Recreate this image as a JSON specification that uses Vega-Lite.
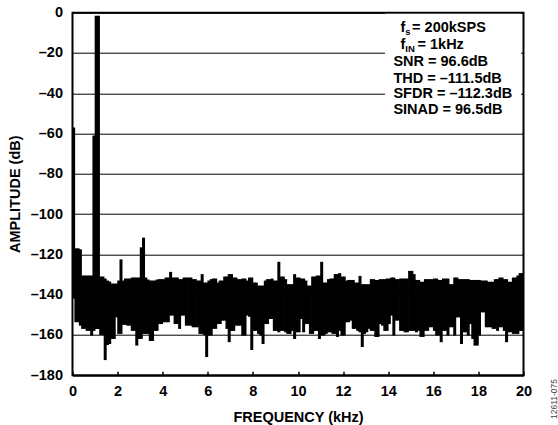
{
"$schema":"https://vega.github.io/schema/vega-lite/v6.json",
"width":451,"height":362.5,
"autosize":{"type":"none"},
"padding":{"left":72.5,"top":12.7,"right":34.5,"bottom":49.8},
"background":"white",
"config":{"view":{"stroke":"#000","strokeWidth":2},"font":"Liberation Sans"},
"layer":[
{"data":{"values":[
{"f":0.05,"hi":-57,"lo":-142},{"f":0.15,"hi":-117,"lo":-153.7},{"f":0.25,"hi":-117,"lo":-153.7},{"f":0.35,"hi":-117.5,"lo":-155.4},{"f":0.45,"hi":-130.5,"lo":-157},{"f":0.55,"hi":-130.5,"lo":-157},{"f":0.65,"hi":-130.5,"lo":-158},{"f":0.75,"hi":-130.5,"lo":-158},{"f":0.85,"hi":-130.5,"lo":-160.3},{"f":0.95,"hi":-61,"lo":-158},
{"f":1.05,"hi":-1.5,"lo":-157},{"f":1.15,"hi":-1.5,"lo":-157},{"f":1.25,"hi":-131,"lo":-160},{"f":1.35,"hi":-131,"lo":-160},{"f":1.45,"hi":-132,"lo":-172.5},{"f":1.55,"hi":-133,"lo":-165},{"f":1.65,"hi":-133.5,"lo":-164.5},{"f":1.75,"hi":-134.5,"lo":-162},{"f":1.85,"hi":-134.5,"lo":-162},{"f":1.95,"hi":-134.5,"lo":-151.3},
{"f":2.05,"hi":-133,"lo":-159.5},{"f":2.15,"hi":-122.5,"lo":-159.5},{"f":2.25,"hi":-133,"lo":-155},{"f":2.35,"hi":-132,"lo":-155},{"f":2.45,"hi":-132,"lo":-155.4},{"f":2.55,"hi":-132,"lo":-155.4},{"f":2.65,"hi":-131.5,"lo":-158},{"f":2.75,"hi":-131.5,"lo":-158},{"f":2.85,"hi":-131.5,"lo":-165.3},{"f":2.95,"hi":-131.5,"lo":-162},
{"f":3.05,"hi":-116.5,"lo":-162},{"f":3.15,"hi":-111.7,"lo":-159.5},{"f":3.25,"hi":-131.5,"lo":-159.5},{"f":3.35,"hi":-132.5,"lo":-159.5},{"f":3.45,"hi":-133,"lo":-163},{"f":3.55,"hi":-133,"lo":-163},{"f":3.65,"hi":-133,"lo":-158},{"f":3.75,"hi":-132.5,"lo":-158},{"f":3.85,"hi":-132.3,"lo":-154.6},{"f":3.95,"hi":-132.3,"lo":-154.6},
{"f":4.05,"hi":-132.3,"lo":-153.7},{"f":4.15,"hi":-131.5,"lo":-153.7},{"f":4.25,"hi":-131.5,"lo":-153.7},{"f":4.35,"hi":-128.7,"lo":-150.4},{"f":4.45,"hi":-131.5,"lo":-150.4},{"f":4.55,"hi":-131.5,"lo":-154.6},{"f":4.65,"hi":-131.5,"lo":-154.6},{"f":4.75,"hi":-132.3,"lo":-157},{"f":4.85,"hi":-132.3,"lo":-150.4},{"f":4.95,"hi":-131.5,"lo":-150.4},
{"f":5.05,"hi":-131.5,"lo":-155.4},{"f":5.15,"hi":-131.5,"lo":-155.4},{"f":5.25,"hi":-131.5,"lo":-155.4},{"f":5.35,"hi":-132.3,"lo":-156.2},{"f":5.45,"hi":-132.3,"lo":-156.2},{"f":5.55,"hi":-133,"lo":-156.2},{"f":5.65,"hi":-133,"lo":-159.5},{"f":5.75,"hi":-129.8,"lo":-159.5},{"f":5.85,"hi":-134,"lo":-160},{"f":5.95,"hi":-134,"lo":-171},
{"f":6.05,"hi":-133,"lo":-160.3},{"f":6.15,"hi":-132.3,"lo":-160.3},{"f":6.25,"hi":-132,"lo":-157},{"f":6.35,"hi":-132,"lo":-157},{"f":6.45,"hi":-134,"lo":-154.6},{"f":6.55,"hi":-133,"lo":-154.6},{"f":6.65,"hi":-133,"lo":-152.9},{"f":6.75,"hi":-131,"lo":-152.9},{"f":6.85,"hi":-131,"lo":-157},{"f":6.95,"hi":-129.8,"lo":-163.6},
{"f":7.05,"hi":-129.8,"lo":-158},{"f":7.15,"hi":-131.5,"lo":-158},{"f":7.25,"hi":-131.5,"lo":-155.4},{"f":7.35,"hi":-132.3,"lo":-155.4},{"f":7.45,"hi":-132.3,"lo":-155.4},{"f":7.55,"hi":-132,"lo":-160.3},{"f":7.65,"hi":-132,"lo":-160.3},{"f":7.75,"hi":-133,"lo":-150.4},{"f":7.85,"hi":-131.5,"lo":-151},{"f":7.95,"hi":-131.5,"lo":-167.5},
{"f":8.05,"hi":-134,"lo":-158},{"f":8.15,"hi":-134,"lo":-158},{"f":8.25,"hi":-135.5,"lo":-159.5},{"f":8.35,"hi":-135.5,"lo":-160.3},{"f":8.45,"hi":-135.5,"lo":-164.5},{"f":8.55,"hi":-133,"lo":-154.6},{"f":8.65,"hi":-132.3,"lo":-154.6},{"f":8.75,"hi":-132.3,"lo":-152.1},{"f":8.85,"hi":-132,"lo":-152.1},{"f":8.95,"hi":-133,"lo":-158},
{"f":9.05,"hi":-133,"lo":-158},{"f":9.15,"hi":-123.7,"lo":-158.7},{"f":9.25,"hi":-131,"lo":-158},{"f":9.35,"hi":-131,"lo":-158},{"f":9.45,"hi":-132.3,"lo":-158.7},{"f":9.55,"hi":-134.8,"lo":-159.5},{"f":9.65,"hi":-134.8,"lo":-159.5},{"f":9.75,"hi":-134.8,"lo":-158},{"f":9.85,"hi":-129.8,"lo":-162},{"f":9.95,"hi":-131.5,"lo":-158.7},
{"f":10.05,"hi":-131.5,"lo":-158.7},{"f":10.15,"hi":-132,"lo":-152.1},{"f":10.25,"hi":-132,"lo":-158.7},{"f":10.35,"hi":-133,"lo":-154.6},{"f":10.45,"hi":-135.5,"lo":-154.6},{"f":10.55,"hi":-135.5,"lo":-159.5},{"f":10.65,"hi":-131,"lo":-159.5},{"f":10.75,"hi":-131,"lo":-158},{"f":10.85,"hi":-130.5,"lo":-158},{"f":10.95,"hi":-130.5,"lo":-162},
{"f":11.05,"hi":-123.7,"lo":-160.3},{"f":11.15,"hi":-134,"lo":-160.3},{"f":11.25,"hi":-134,"lo":-159.5},{"f":11.35,"hi":-132.3,"lo":-158.7},{"f":11.45,"hi":-132,"lo":-158.7},{"f":11.55,"hi":-132,"lo":-159.5},{"f":11.65,"hi":-129.8,"lo":-159.5},{"f":11.75,"hi":-129.8,"lo":-161},{"f":11.85,"hi":-129.3,"lo":-158},{"f":11.95,"hi":-131,"lo":-160.3},
{"f":12.05,"hi":-131,"lo":-160.3},{"f":12.15,"hi":-133,"lo":-153.7},{"f":12.25,"hi":-132.7,"lo":-153.7},{"f":12.35,"hi":-132.7,"lo":-152.9},{"f":12.45,"hi":-132.7,"lo":-157},{"f":12.55,"hi":-134,"lo":-157},{"f":12.65,"hi":-134,"lo":-158},{"f":12.75,"hi":-130.7,"lo":-158.7},{"f":12.85,"hi":-134.8,"lo":-166},{"f":12.95,"hi":-134.8,"lo":-159.5},
{"f":13.05,"hi":-134.8,"lo":-158.7},{"f":13.15,"hi":-134.8,"lo":-157},{"f":13.25,"hi":-132.3,"lo":-158},{"f":13.35,"hi":-132.3,"lo":-158},{"f":13.45,"hi":-132.7,"lo":-161},{"f":13.55,"hi":-132.7,"lo":-161},{"f":13.65,"hi":-132.3,"lo":-154.6},{"f":13.75,"hi":-132.3,"lo":-155.4},{"f":13.85,"hi":-132.3,"lo":-158},{"f":13.95,"hi":-132,"lo":-158},
{"f":14.05,"hi":-132,"lo":-154.6},{"f":14.15,"hi":-131.5,"lo":-150.4},{"f":14.25,"hi":-131.5,"lo":-160.3},{"f":14.35,"hi":-132.3,"lo":-152.9},{"f":14.45,"hi":-132.3,"lo":-152.9},{"f":14.55,"hi":-132,"lo":-158},{"f":14.65,"hi":-132,"lo":-158},{"f":14.75,"hi":-132,"lo":-158.7},{"f":14.85,"hi":-132,"lo":-158.7},{"f":14.95,"hi":-128.2,"lo":-158},
{"f":15.05,"hi":-128.2,"lo":-158},{"f":15.15,"hi":-129.8,"lo":-158},{"f":15.25,"hi":-132.7,"lo":-158.7},{"f":15.35,"hi":-132.7,"lo":-158},{"f":15.45,"hi":-133.6,"lo":-161},{"f":15.55,"hi":-133.6,"lo":-161},{"f":15.65,"hi":-132.3,"lo":-158},{"f":15.75,"hi":-132.3,"lo":-158},{"f":15.85,"hi":-132.3,"lo":-156.2},{"f":15.95,"hi":-132.3,"lo":-156.2},
{"f":16.05,"hi":-132,"lo":-158},{"f":16.15,"hi":-132,"lo":-160.3},{"f":16.25,"hi":-132.7,"lo":-160.3},{"f":16.35,"hi":-132.7,"lo":-163.6},{"f":16.45,"hi":-132,"lo":-158},{"f":16.55,"hi":-132,"lo":-158},{"f":16.65,"hi":-132,"lo":-160.3},{"f":16.75,"hi":-134.8,"lo":-156.2},{"f":16.85,"hi":-134.8,"lo":-156.2},{"f":16.95,"hi":-131.5,"lo":-160.3},
{"f":17.05,"hi":-131.5,"lo":-151.3},{"f":17.15,"hi":-132.3,"lo":-151.3},{"f":17.25,"hi":-132.3,"lo":-164.5},{"f":17.35,"hi":-132.3,"lo":-158.7},{"f":17.45,"hi":-132.3,"lo":-158.7},{"f":17.55,"hi":-132.3,"lo":-160.3},{"f":17.65,"hi":-132.7,"lo":-154.6},{"f":17.75,"hi":-132.7,"lo":-162},{"f":17.85,"hi":-132.7,"lo":-165.3},{"f":17.95,"hi":-132.7,"lo":-165.3},
{"f":18.05,"hi":-132.7,"lo":-160.3},{"f":18.15,"hi":-133,"lo":-148.8},{"f":18.25,"hi":-133,"lo":-148.8},{"f":18.35,"hi":-133,"lo":-156.2},{"f":18.45,"hi":-133.6,"lo":-156.2},{"f":18.55,"hi":-133.6,"lo":-156.2},{"f":18.65,"hi":-133.6,"lo":-157},{"f":18.75,"hi":-132.3,"lo":-157},{"f":18.85,"hi":-132.3,"lo":-158},{"f":18.95,"hi":-131.5,"lo":-156.2},
{"f":19.05,"hi":-131.5,"lo":-156.2},{"f":19.15,"hi":-132.3,"lo":-158},{"f":19.25,"hi":-132.3,"lo":-163.6},{"f":19.35,"hi":-133.6,"lo":-158.7},{"f":19.45,"hi":-133.6,"lo":-158.7},{"f":19.55,"hi":-131.5,"lo":-159.5},{"f":19.65,"hi":-131.5,"lo":-159.5},{"f":19.75,"hi":-130.5,"lo":-159.5},{"f":19.85,"hi":-129.3,"lo":-158},{"f":19.95,"hi":-129.3,"lo":-158}
]},
"mark":{"type":"rule","color":"#000","strokeWidth":3,"strokeCap":"butt"},
"encoding":{
"x":{"field":"f","type":"quantitative","scale":{"domain":[0,20],"nice":false,"zero":false},
"axis":{"values":[0,2,4,6,8,10,12,14,16,18,20],"format":"d","title":"FREQUENCY (kHz)","titleFontSize":14.5,"titleFontWeight":"bold","titleColor":"#000","titleBaseline":"alphabetic","titleY":46.5,"titleX":225.5,"titleAlign":"center","labelFontSize":14.5,"labelFontWeight":"bold","labelColor":"#000","grid":false,"domain":false,"tickSize":-4,"tickWidth":1.5,"tickColor":"#000","labelPadding":13,"labelFlush":false}},
"y":{"field":"hi","type":"quantitative","scale":{"domain":[-180,0],"nice":false,"zero":false},
"axis":{"values":[0,-20,-40,-60,-80,-100,-120,-140,-160,-180],"labelExpr":"datum.value < 0 ? '–' + (-datum.value) : '0'","title":"AMPLITUDE (dB)","titleFontSize":14.5,"titleFontWeight":"bold","titleColor":"#000","titleAngle":270,"titleBaseline":"middle","titleAlign":"center","titleX":-57.5,"titleY":181,"labelFontSize":14.5,"labelFontWeight":"bold","labelColor":"#000","grid":true,"gridColor":"#000","gridWidth":1,"gridOpacity":1,"domain":false,"ticks":false,"labelPadding":10,"labelFlush":false}},
"y2":{"field":"lo"}}},
{"data":{"values":[{}]},"mark":{"type":"rect","color":"white"},"encoding":{"x":{"datum":13.86},"x2":{"datum":19.89},"y":{"datum":-0.5},"y2":{"datum":-54}}},
{"data":{"values":[{}]},"mark":{"type":"text","text":"f","align":"left","baseline":"alphabetic","fontSize":14.5,"fontWeight":"bold","color":"#000"},"encoding":{"x":{"datum":14.55},"y":{"datum":-9.6}}},
{"data":{"values":[{}]},"mark":{"type":"text","text":"s","align":"left","baseline":"alphabetic","fontSize":9.5,"fontWeight":"bold","color":"#000"},"encoding":{"x":{"datum":14.76},"y":{"datum":-11.3}}},
{"data":{"values":[{}]},"mark":{"type":"text","text":"= 200kSPS","align":"left","baseline":"alphabetic","fontSize":14.5,"fontWeight":"bold","color":"#000"},"encoding":{"x":{"datum":15.06},"y":{"datum":-9.6}}},
{"data":{"values":[{}]},"mark":{"type":"text","text":"f","align":"left","baseline":"alphabetic","fontSize":14.5,"fontWeight":"bold","color":"#000"},"encoding":{"x":{"datum":14.55},"y":{"datum":-17.8}}},
{"data":{"values":[{}]},"mark":{"type":"text","text":"IN","align":"left","baseline":"alphabetic","fontSize":9.5,"fontWeight":"bold","color":"#000"},"encoding":{"x":{"datum":14.76},"y":{"datum":-19.6}}},
{"data":{"values":[{}]},"mark":{"type":"text","text":"= 1kHz","align":"left","baseline":"alphabetic","fontSize":14.5,"fontWeight":"bold","color":"#000"},"encoding":{"x":{"datum":15.3},"y":{"datum":-17.8}}},
{"data":{"values":[{}]},"mark":{"type":"text","text":"SNR = 96.6dB","align":"left","baseline":"alphabetic","fontSize":14.5,"fontWeight":"bold","color":"#000"},"encoding":{"x":{"datum":14.23},"y":{"datum":-26.5}}},
{"data":{"values":[{}]},"mark":{"type":"text","text":"THD = –111.5dB","align":"left","baseline":"alphabetic","fontSize":14.5,"fontWeight":"bold","color":"#000"},"encoding":{"x":{"datum":14.23},"y":{"datum":-34.7}}},
{"data":{"values":[{}]},"mark":{"type":"text","text":"SFDR = –112.3dB","align":"left","baseline":"alphabetic","fontSize":14.5,"fontWeight":"bold","color":"#000"},"encoding":{"x":{"datum":14.23},"y":{"datum":-42.5}}},
{"data":{"values":[{}]},"mark":{"type":"text","text":"SINAD = 96.5dB","align":"left","baseline":"alphabetic","fontSize":14.5,"fontWeight":"bold","color":"#000"},"encoding":{"x":{"datum":14.23},"y":{"datum":-50.5}}},
{"data":{"values":[{}]},"mark":{"type":"text","text":"12611-075","align":"center","baseline":"middle","angle":270,"fontSize":8.5,"color":"#444"},"encoding":{"x":{"datum":21.37},"y":{"datum":-191.8}}}
]
}
